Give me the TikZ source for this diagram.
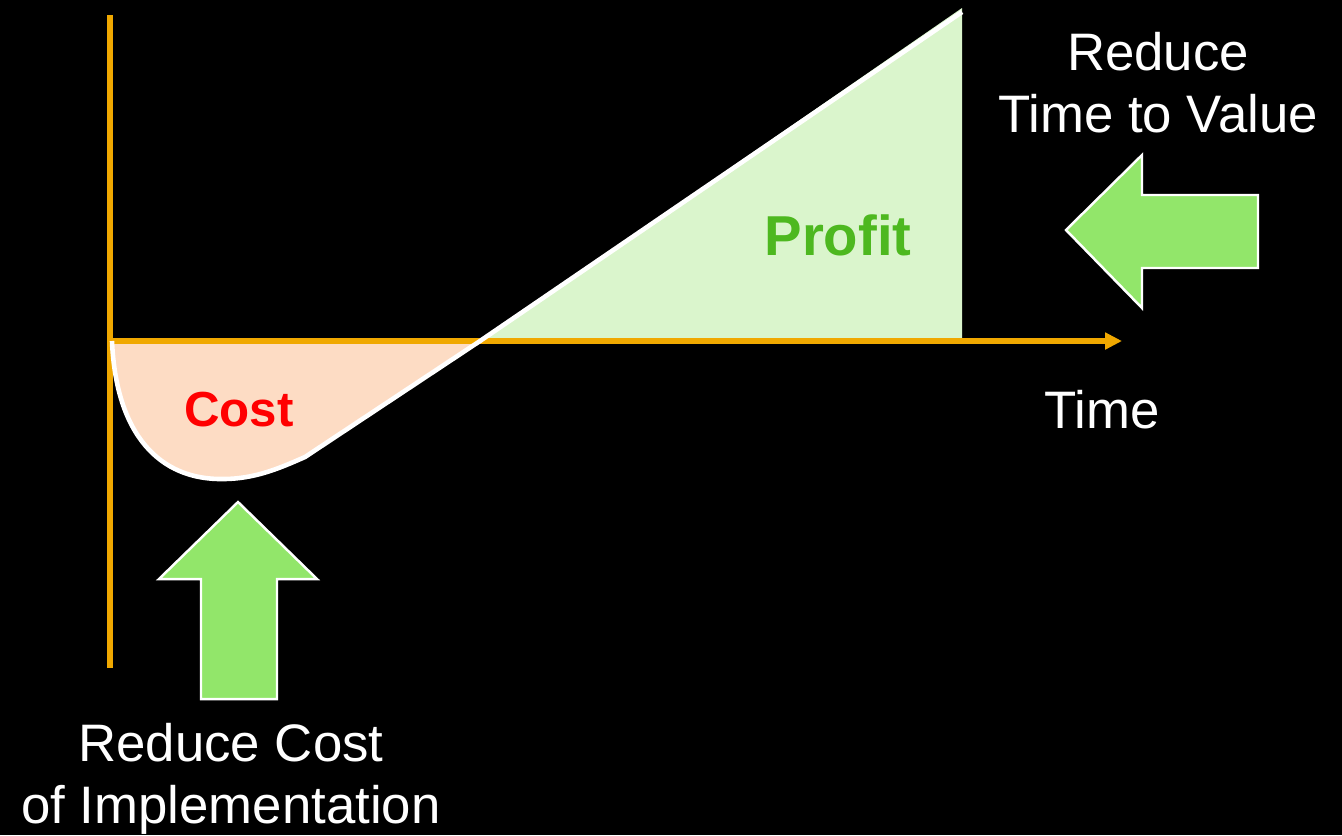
\documentclass[tikz,border=0pt]{standalone}
\usepackage{fontspec}
\setmainfont{Liberation Sans}
\usetikzlibrary{arrows.meta}

\definecolor{axisorange}{RGB}{240,168,0}
\definecolor{costfill}{RGB}{253,220,196}
\definecolor{profitfill}{RGB}{218,245,204}
\definecolor{profitgreen}{RGB}{77,184,31}
\definecolor{arrowgreen}{RGB}{146,230,106}

\tikzset{
  axis/.style={draw=axisorange, line width=1.5pt},
  curve/.style={draw=white, line width=1.3pt},
  bigarrow/.style={fill=arrowgreen, draw=white, line width=0.7pt},
  lbl/.style={text=white, font=\fontsize{15}{17.6}\selectfont, align=center, inner sep=0pt},
  area/.style={font=\bfseries\fontsize{14}{17}\selectfont, inner sep=0pt}
}

\begin{document}
\begin{tikzpicture}[x=0.01cm, y=-0.01cm]
  % Background
  \fill[black] (0,0) rectangle (1342,835);
  \useasboundingbox (0,0) rectangle (1342,835);

  % Define coordinates
  \coordinate (origin) at (112,341);
  \coordinate (ytop) at (110,15);
  \coordinate (ybot) at (110,668);
  \coordinate (xstart) at (110,341);
  \coordinate (xend) at (1122,341);
  \coordinate (even) at (480,341);
  \coordinate (peak) at (962,12);
  \coordinate (foot) at (962,341);

  % Areas
  \fill[costfill] (origin) .. controls (116,435) and (160,480) .. (223,479)
    .. controls (255,479) and (280,468) .. (305,457) -- (even) -- cycle;
  \fill[profitfill] (even) -- (962,8) -- (foot) -- cycle;

  % Axes
  \draw[axis] (ytop) -- (ybot);
  \draw[axis, -{Triangle[length=4.8pt, width=4.6pt]}] (xstart) -- (xend);

  % Cost and profit line
  \draw[curve] (origin) .. controls (116,435) and (160,480) .. (223,479)
    .. controls (255,479) and (280,468) .. (305,457) -- (even) -- (peak);

  % Big arrows
  \draw[bigarrow] (238,502) -- (317,579) -- (277,579) -- (277,699)
    -- (201,699) -- (201,579) -- (159,579) -- cycle;
  \draw[bigarrow] (1066,230) -- (1142,155) -- (1142,195) -- (1258,195)
    -- (1258,268) -- (1142,268) -- (1142,308) -- cycle;

  % Define nodes
  \node[area, text=red] (cost) at (239,410) {Cost};
  \node[area, text=profitgreen, font=\bfseries\fontsize{16}{19}\selectfont] (profit) at (838,235) {Profit};
  \node[lbl] (time) at (1102,410) {Time};
  \node[lbl] (ttv) at (1158,83) {Reduce\\Time to Value};
  \node[lbl] (impl) at (231,779) {Reduce Cost\\of Implementation};
\end{tikzpicture}
\end{document}
